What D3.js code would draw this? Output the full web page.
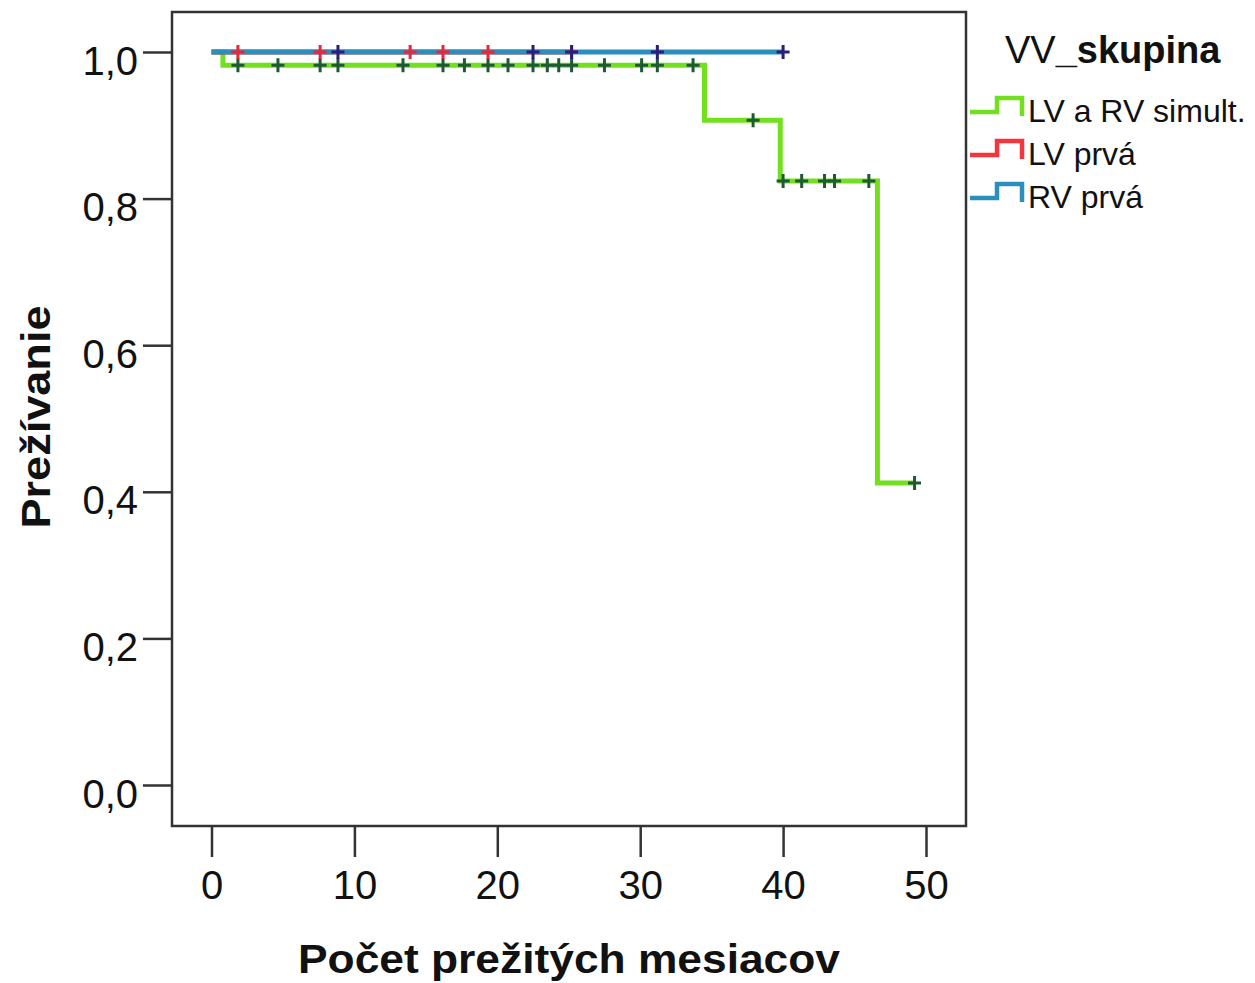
<!DOCTYPE html>
<html>
<head>
<meta charset="utf-8">
<script src="https://cdn.jsdelivr.net/npm/d3@7"></script>
<style>
  body { margin: 0; background: #fff; }
  text { font-family: "Liberation Sans", Arial, sans-serif; fill: #111; }
</style>
</head>
<body>
<svg id="chart" width="1255" height="983"></svg>
<script>
// Kaplan-Meier data (time in months, survival)
let groupNames = ["LV a RV simult.", "LV prvá", "RV prvá"];
let groupColors = ["#72e01e", "#f2363c", "#2b8fbe"];
let censorColors = ["#1d5a34", "#e8283a", "#2c1d7a"];

// step times / survival after the step
let simultTimes = [0, 0.8, 34.5, 39.8, 46.6];
let simultSurv = [1.0, 0.982, 0.907, 0.824, 0.412];
let simultEnd = 49.2;
let simultCensored = [1.85, 4.65, 7.6, 8.85, 13.4, 16.2, 17.7, 19.35, 20.75, 22.5, 23.5, 24.3, 25.2,
                      27.5, 30.1, 31.2, 33.7, 37.9, 40.0, 41.3, 42.9, 43.6, 46.0, 49.2];

let lvTimes = [0];
let lvSurv = [1.0];
let lvEnd = 25.2;
let lvCensored = [1.85, 7.6, 13.9, 16.2, 19.35, 25.2];

let rvTimes = [0];
let rvSurv = [1.0];
let rvEnd = 40.0;
let rvCensored = [8.85, 22.5, 25.2, 31.2, 40.0];

let xTicks = [0, 10, 20, 30, 40, 50];
let yTicks = [0, 0.2, 0.4, 0.6, 0.8, 1.0];

let svg = d3.select('#chart');

// frame of the plot area
let frame = {left: 172, top: 12, right: 966, bottom: 826};

let xScale = d3.scaleLinear().domain([0, 50]).range([211.5, 926]);
let yScale = d3.scaleLinear().domain([0, 1]).range([785, 52]);

svg.append('rect')
  .attr('x', frame.left).attr('y', frame.top)
  .attr('width', frame.right - frame.left).attr('height', frame.bottom - frame.top)
  .attr('fill', 'none').attr('stroke', '#333').attr('stroke-width', 2.5);

// axes
let fmt = d => d3.format('.1f')(d).replace('.', ',');
let yAxis = d3.axisLeft(yScale).tickValues(yTicks).tickSize(29).tickPadding(5).tickFormat(fmt);
let xAxis = d3.axisBottom(xScale).tickValues(xTicks).tickSize(31).tickPadding(14).tickFormat(d3.format('d'));

let gy = svg.append('g').attr('transform', `translate(${frame.left},0)`).call(yAxis);
let gx = svg.append('g').attr('transform', `translate(0,${frame.bottom})`).call(xAxis);
[gx, gy].forEach(g => {
  g.select('.domain').remove();
  g.selectAll('.tick line').attr('stroke', '#333').attr('stroke-width', 2.5);
  g.selectAll('.tick text').attr('font-size', 40).attr('fill', '#111')
    .style('font-family', '"Liberation Sans", Arial, sans-serif');
});
gy.selectAll('.tick text').attr('dy', '0.55em');

// axis titles
svg.append('text')
  .attr('x', 569).attr('y', 973)
  .attr('text-anchor', 'middle')
  .attr('font-size', 40).attr('font-weight', 'bold')
  .attr('textLength', 542).attr('lengthAdjust', 'spacingAndGlyphs')
  .text('Počet prežitých mesiacov');

svg.append('text')
  .attr('transform', 'translate(50,417) rotate(-90)')
  .attr('text-anchor', 'middle')
  .attr('font-size', 40).attr('font-weight', 'bold')
  .attr('textLength', 223).attr('lengthAdjust', 'spacingAndGlyphs')
  .text('Prežívanie');

// survival curves
let groups = [
  {times: simultTimes, surv: simultSurv, end: simultEnd, cens: simultCensored},
  {times: lvTimes, surv: lvSurv, end: lvEnd, cens: lvCensored},
  {times: rvTimes, surv: rvSurv, end: rvEnd, cens: rvCensored}
];

let line = d3.line()
  .x(d => xScale(d[0]))
  .y(d => yScale(d[1]))
  .curve(d3.curveStepAfter);

function survAt(g, t) {
  let s = g.surv[0];
  for (let i = 0; i < g.times.length; i++) {
    if (g.times[i] <= t) s = g.surv[i];
  }
  return s;
}

groups.forEach((g, i) => {
  let pts = g.times.map((t, j) => [t, g.surv[j]]);
  pts.push([g.end, g.surv[g.surv.length - 1]]);
  svg.append('path')
    .attr('d', line(pts))
    .attr('fill', 'none')
    .attr('stroke', groupColors[i])
    .attr('stroke-width', 5);
});

// censor marks drawn over the lines
groups.forEach((g, i) => {
  svg.append('g').selectAll('path')
    .data(g.cens)
    .enter()
    .append('path')
    .attr('d', d => {
      let cx = xScale(d), cy = yScale(survAt(g, d));
      return `M${cx - 6.5},${cy}H${cx + 6.5}M${cx},${cy - 7}V${cy + 7}`;
    })
    .attr('stroke', censorColors[i])
    .attr('stroke-width', 3);
});

// legend
let legTitle = svg.append('text').attr('x', 1005).attr('y', 63).attr('font-size', 38);
legTitle.append('tspan').text('VV');
legTitle.append('tspan').attr('font-weight', 'bold').text('_skupina');

let legend = svg.append('g').selectAll('g')
  .data(groupNames)
  .enter()
  .append('g')
  .attr('transform', (d, i) => `translate(0,${i * 43})`);

legend.append('path')
  .attr('d', 'M970,112H997V98H1022V116')
  .attr('fill', 'none')
  .attr('stroke', (d, i) => groupColors[i])
  .attr('stroke-width', 4.5);

legend.append('text')
  .attr('x', 1028).attr('y', 122)
  .attr('font-size', 32)
  .attr('fill', '#222')
  .text(d => d);
</script>
</body>
</html>
